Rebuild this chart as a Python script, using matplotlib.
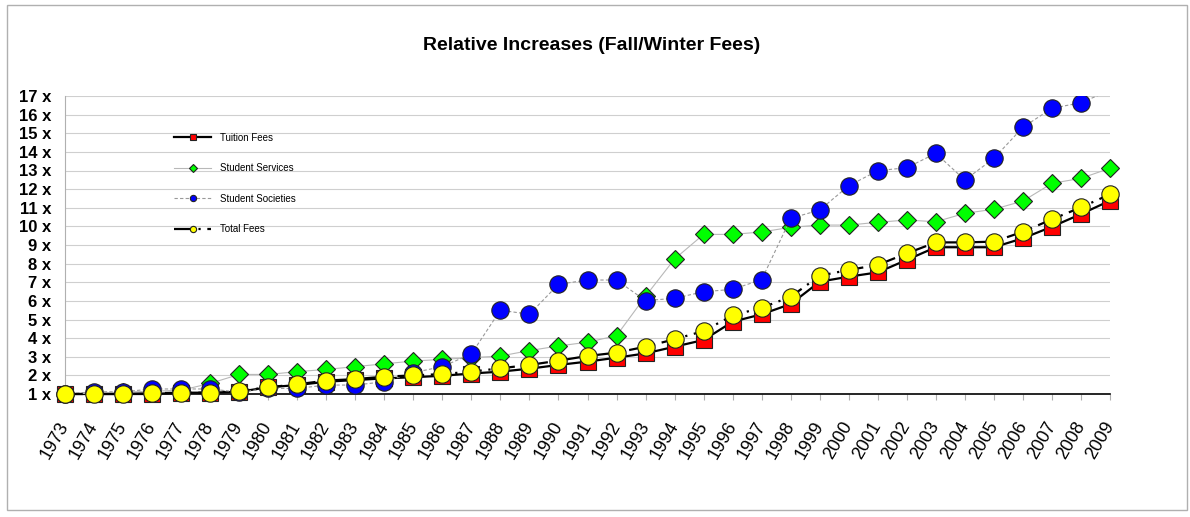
import matplotlib.pyplot as plt
import matplotlib.patches as patches
import numpy as np

# dados
anos = [str(a) for a in range(1973, 2010)]
tuition = [1.0, 1.0, 1.0, 1.0, 1.07, 1.07, 1.12, 1.36, 1.48, 1.66, 1.75, 1.84, 1.9, 1.98, 2.1, 2.2,
           2.36, 2.56, 2.74, 2.95, 3.18, 3.54, 3.9, 4.88, 5.28, 5.83, 7.03, 7.3, 7.53, 8.2, 8.88,
           8.88, 8.88, 9.36, 9.98, 10.66, 11.38]
services = [1.0, 1.05, 1.1, 1.15, 1.2, 1.57, 2.05, 2.05, 2.2, 2.32, 2.47, 2.62, 2.77, 2.86, 2.95,
            3.04, 3.33, 3.58, 3.78, 4.13, 6.25, 8.25, 9.57, 9.57, 9.7, 9.95, 10.07, 10.07, 10.22,
            10.34, 10.25, 10.7, 10.92, 11.36, 12.31, 12.58, 13.12]
societies = [1.0, 1.12, 1.12, 1.27, 1.27, 1.27, 1.1, 1.3, 1.3, 1.48, 1.48, 1.66, 2.15, 2.47, 3.15,
             5.5, 5.28, 6.89, 7.12, 7.12, 6.01, 6.14, 6.49, 6.62, 7.14, 10.43, 10.88, 12.18, 12.99,
             13.15, 13.92, 12.49, 13.65, 15.32, 16.34, 16.64, 17.3]
total = [1.0, 1.0, 1.0, 1.04, 1.07, 1.07, 1.16, 1.36, 1.52, 1.72, 1.8, 1.93, 2.0, 2.07, 2.2, 2.38,
         2.56, 2.79, 3.04, 3.22, 3.54, 3.94, 4.38, 5.22, 5.63, 6.22, 7.35, 7.66, 7.93, 8.55, 9.14,
         9.14, 9.18, 9.71, 10.38, 11.02, 11.72]
yticks = list(range(1, 18))

plt.rcParams['font.family'] = ['Liberation Sans', 'DejaVu Sans']

fig = plt.figure(figsize=(11.9, 5.17), dpi=100)
ax = fig.add_axes([65 / 1190, 123 / 517, 1045 / 1190, 298 / 517])

x = np.arange(len(anos))
ymax = 17

# moldura do gráfico
fig.patches.append(patches.Rectangle((7 / 1190, 7 / 517), 1180 / 1190, 505 / 517,
                                     transform=fig.transFigure, fill=False,
                                     edgecolor='#b0b0b0', linewidth=1))

ax.plot(x, tuition, color='black', lw=1.6, marker='s', ms=12, mfc='#ff0000', mec='#222222',
        mew=0.8, label='Tuition Fees', clip_on=False, zorder=3)
ax.plot(x, services, color='#b8b8b8', lw=0.8, marker='D', ms=9.5, mfc='#00ff00', mec='#222222',
        mew=0.8, label='Student Services', clip_on=False, zorder=4)
visiveis = [i for i, v in enumerate(societies) if v <= ymax]  # marcadores fora da escala ficam ocultos
soc, = ax.plot(x, societies, color='#999999', lw=0.8, ls=(0, (3, 2)), marker='o', ms=12.5,
               mfc='#0000ff', mec='#222222', mew=0.8, markevery=visiveis,
               label='Student Societies', zorder=5)
# corta só acima do 17 x (embaixo os marcadores podem passar do eixo)
corte = patches.Rectangle((-0.05, -0.2), 1.1, 1.2, transform=ax.transAxes)
soc.set_clip_path(corte)
ax.plot(x, total, color='black', lw=1.6, ls=(0, (8, 3, 1, 3)), marker='o', ms=12.5,
        mfc='#ffff00', mec='#222222', mew=0.8, label='Total Fees', clip_on=False, zorder=6)

ax.set_xlim(0, len(anos) - 1)
ax.set_ylim(1, ymax)
ax.set_yticks(yticks)
ax.set_yticklabels([f'{v} x' for v in yticks], fontsize=12, fontweight='bold')
ax.set_xticks(x)
ax.set_xticklabels(anos, fontsize=13, rotation=60, ha='right', va='center',
                   rotation_mode='anchor')
ax.tick_params(axis='y', length=0, pad=10)
ax.tick_params(axis='x', length=4, color='#b0b0b0', pad=17)
ax.grid(axis='y', color='#cfcfcf', lw=0.8)
ax.set_axisbelow(True)
for s in ['top', 'right']:
    ax.spines[s].set_visible(False)
ax.spines['left'].set_color('#b0b0b0')
ax.spines['bottom'].set_color('black')
ax.spines['bottom'].set_linewidth(1.2)

leg = ax.legend(loc='upper left', bbox_to_anchor=(0.10, 0.893), frameon=False, fontsize=7,
                labelspacing=2.1, handlelength=3.8, handletextpad=0.9, borderpad=0)
for h in leg.legend_handles:
    h.set_markersize(4.5)

fig.text(0.497, 1 - 45 / 517, 'Relative Increases (Fall/Winter Fees)', ha='center', va='center',
         fontsize=14, fontweight='bold')

plt.savefig('out.png', dpi=100)
